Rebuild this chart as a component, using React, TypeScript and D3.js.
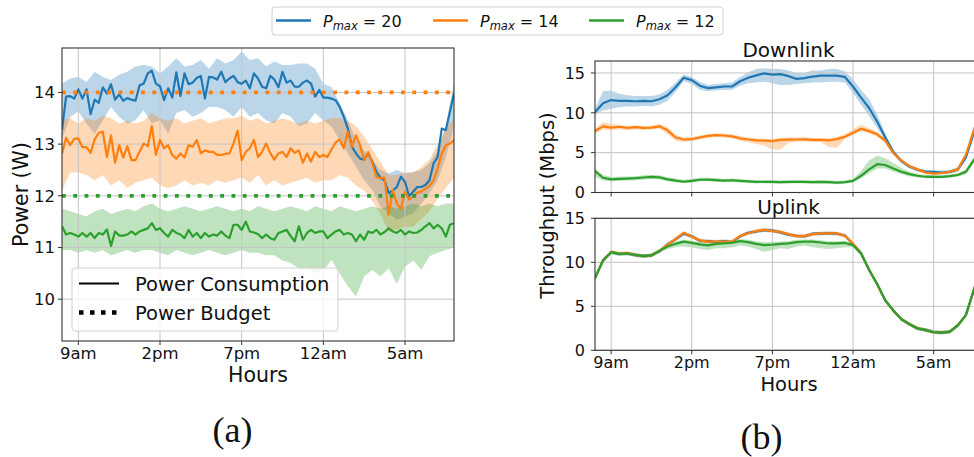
import React from "react";
import * as d3 from "d3";

// ---------------- data ----------------
const HOUR_TICKS = [1, 6, 11, 16, 21]; // hours after 8am
const HOUR_LABELS = ["9am", "2pm", "7pm", "12am", "5am"];
const PMAX_LABELS = ["20", "14", "12"];
const COLORS = ["#1f77b4", "#ff7f0e", "#2ca02c"];
const POWER_BUDGET = [20, 14, 12];
const POWER_TICKS = [10, 11, 12, 13, 14];
const TPUT_TICKS = [0, 5, 10, 15];

// (a) power consumption, 15-min samples from 8am to 8am
const POWER_P20 = [
  13.27, 13.92, 13.93, 13.88, 14.06, 13.88, 14.06, 13.58, 13.86, 13.8,
  14.1, 13.98, 14.16, 13.86, 13.96, 13.84, 13.89, 13.86, 13.84, 14.14,
  14.17, 14.37, 14.42, 14.17, 14.12, 13.85, 14.08, 13.9, 14.39, 13.93,
  14.37, 14.16, 14.19, 14.28, 14.32, 13.88, 14.3, 14.29, 14.25, 14.4,
  14.2, 14.27, 14.32, 14.2, 14.17, 14.23, 14.08, 14.37, 14.27, 14.11,
  14.08, 14.32, 14.25, 14.1, 14.4, 14.19, 14.23, 14.11, 14.11, 14.19,
  14.23, 14.17, 13.92, 14.05, 13.9, 13.9, 13.88, 13.85, 13.72, 13.53,
  13.3, 12.95, 12.82, 12.72, 12.7, 12.82, 12.66, 12.46, 12.35, 12.3,
  12.05, 12.1, 12.17, 12.37, 12.27, 11.99, 12.08, 12.17, 12.17, 12.21,
  12.3, 12.63, 12.75, 13.3, 13.27, 13.63, 13.98,
];
const POWER_P14 = [
  12.82, 13.12, 12.98, 13.1, 13.11, 12.94, 12.94, 12.83, 13.09, 13.22,
  13.24, 12.75, 13.17, 12.64, 12.98, 12.74, 12.96, 12.69, 12.69, 12.85,
  13.01, 12.96, 13.35, 12.79, 13.08, 12.92, 12.98, 12.79, 12.72, 12.82,
  12.74, 12.98, 12.95, 13.08, 12.82, 12.88, 12.85, 12.85, 12.79, 12.79,
  12.81, 12.82, 13.01, 13.26, 12.69, 12.85, 12.92, 13.08, 12.75, 12.85,
  13.01, 12.83, 12.7, 12.82, 12.85, 12.75, 12.92, 12.83, 12.88, 12.64,
  12.82, 12.66, 12.85, 12.75, 12.79, 12.75, 12.9, 13.03, 13.09, 12.92,
  13.24, 12.95, 13.17, 12.98, 12.69, 12.85, 12.63, 12.37, 12.34, 12.35,
  11.63, 12.11, 11.85, 11.75, 12.08, 11.93, 11.98, 12.06, 12.08, 12.14,
  12.19, 12.3, 12.53, 12.82, 12.98, 13.01, 13.08,
];
const POWER_P12 = [
  11.41, 11.25, 11.28, 11.25, 11.21, 11.28, 11.21, 11.28, 11.18, 11.28,
  11.25, 11.35, 11.03, 11.31, 11.23, 11.23, 11.25, 11.31, 11.25, 11.31,
  11.34, 11.37, 11.47, 11.34, 11.37, 11.28, 11.21, 11.34, 11.28, 11.25,
  11.18, 11.34, 11.21, 11.28, 11.18, 11.28, 11.21, 11.25, 11.23, 11.31,
  11.23, 11.18, 11.44, 11.44, 11.34, 11.5, 11.31, 11.29, 11.26, 11.18,
  11.25, 11.18, 11.15, 11.28, 11.31, 11.34, 11.22, 11.12, 11.41, 11.15,
  11.28, 11.34, 11.28, 11.31, 11.31, 11.18, 11.25, 11.31, 11.34, 11.25,
  11.28, 11.25, 11.12, 11.25, 11.15, 11.31, 11.28, 11.34, 11.25, 11.3,
  11.37, 11.31, 11.28, 11.34, 11.25, 11.31, 11.28, 11.29, 11.34, 11.41,
  11.47, 11.37, 11.44, 11.37, 11.21, 11.44, 11.47,
];
// (a) spread bands, 30-min samples
const POWER_P20_HI = [
  14.17, 14.27, 14.3, 14.2, 14.4, 14.3, 14.24, 14.34, 14.4, 14.5,
  14.53, 14.5, 14.37, 14.5, 14.66, 14.5, 14.53, 14.63, 14.46, 14.66,
  14.56, 14.63, 14.79, 14.63, 14.66, 14.5, 14.6, 14.53, 14.53, 14.56,
  14.56, 14.46, 14.17, 14.1, 13.79, 13.46, 13.08, 12.88, 12.69, 12.5,
  12.43, 12.5, 12.43, 12.46, 12.5, 12.63, 12.88, 13.33, 14.2,
];
const POWER_P20_LO = [
  13.1, 13.53, 13.63, 13.4, 13.2, 13.46, 13.72, 13.53, 13.4, 13.46,
  13.66, 13.4, 13.46, 13.2, 13.6, 13.66, 13.53, 13.6, 13.72, 13.72,
  13.66, 13.53, 13.72, 13.53, 13.6, 13.46, 13.4, 13.6, 13.53, 13.34,
  13.4, 13.6, 13.46, 13.34, 13.08, 12.82, 12.56, 12.3, 12.11, 11.79,
  11.66, 11.53, 11.6, 11.66, 11.85, 12.05, 12.3, 12.75, 13.33,
];
const POWER_P14_HI = [
  13.45, 13.5, 13.4, 13.5, 13.45, 13.55, 13.5, 13.4, 13.45, 13.4,
  13.45, 13.6, 13.5, 13.45, 13.5, 13.4, 13.45, 13.5, 13.4, 13.45,
  13.5, 13.5, 13.55, 13.45, 13.5, 13.4, 13.45, 13.5, 13.45, 13.4,
  13.45, 13.4, 13.45, 13.5, 13.5, 13.45, 13.35, 13.15, 12.9, 12.65,
  12.4, 12.4, 12.45, 12.45, 12.55, 12.7, 13.0, 13.3, 13.5,
];
const POWER_P14_LO = [
  12.1, 12.45, 12.45, 12.4, 12.3, 12.4, 12.2, 12.3, 12.15, 12.25,
  12.3, 12.35, 12.2, 12.15, 12.2, 12.3, 12.2, 12.25, 12.2, 12.3,
  12.25, 12.3, 12.35, 12.25, 12.4, 12.2, 12.3, 12.2, 12.25, 12.3,
  12.35, 12.25, 12.3, 12.3, 12.4, 12.35, 12.2, 12.1, 11.9, 11.65,
  11.3, 11.35, 11.4, 11.4, 11.55, 11.7, 11.95, 12.15, 12.35,
];
const POWER_P12_HI = [
  11.75, 11.7, 11.65, 11.6, 11.7, 11.75, 11.65, 11.7, 11.75, 11.7,
  11.8, 11.85, 11.75, 11.7, 11.75, 11.8, 11.75, 11.7, 11.75, 11.8,
  11.75, 11.7, 11.75, 11.7, 11.8, 11.75, 11.7, 11.75, 11.8, 11.75,
  11.7, 11.8, 11.75, 11.7, 11.8, 11.75, 11.7, 11.75, 11.8, 11.75,
  11.8, 11.75, 11.8, 11.85, 11.8, 11.85, 11.8, 11.85, 11.85,
];
const POWER_P12_LO = [
  10.95, 10.95, 10.9, 10.95, 10.9, 10.95, 10.85, 10.9, 10.95, 10.9,
  10.95, 10.95, 10.9, 10.85, 10.95, 10.9, 10.85, 10.9, 10.95, 10.9,
  10.85, 10.9, 10.95, 10.9, 10.9, 10.85, 10.85, 10.75, 10.7, 10.6,
  10.6, 10.5, 10.55, 10.76, 10.5, 10.25, 10.05, 10.44, 10.57, 10.44,
  10.6, 10.3, 10.63, 10.75, 10.57, 10.83, 10.9, 10.95, 11.0,
];

// (b) downlink throughput, 30-min samples
const DL_P20 = [
  10.08, 11.2, 11.6, 11.5, 11.5, 11.45, 11.5, 11.45, 11.7, 12.2,
  13.2, 14.4, 14.1, 13.4, 13.1, 13.2, 13.3, 13.3, 13.96, 14.4,
  14.7, 14.95, 14.8, 14.85, 14.6, 14.25, 14.35, 14.55, 14.67, 14.67,
  14.67, 14.5, 13.3, 11.9, 10.6, 8.9, 6.9, 5.1, 3.95, 3.25,
  2.85, 2.62, 2.58, 2.5, 2.58, 2.9, 4.4, 7.6, 10.5,
];
const DL_P20_HI = [
  10.5, 12.7, 12.8, 12.4, 12.2, 12.1, 12.1, 12.1, 12.3, 12.9,
  13.8, 14.8, 14.5, 13.9, 13.5, 13.6, 13.7, 13.8, 14.5, 15.1,
  15.5, 15.6, 15.5, 15.5, 15.3, 15.0, 15.0, 15.3, 15.3, 15.5,
  15.5, 15.2, 14.2, 12.9, 11.7, 9.8, 7.4, 5.4, 4.2, 3.5,
  3.05, 2.85, 2.8, 2.75, 2.8, 3.2, 4.8, 8.2, 11.0,
];
const DL_P20_LO = [
  9.8, 10.3, 10.5, 10.7, 10.8, 10.8, 10.9, 10.8, 11.0, 11.5,
  12.6, 14.0, 13.6, 12.9, 12.7, 12.8, 12.85, 12.9, 13.4, 13.7,
  13.8, 13.9, 13.7, 13.5, 13.5, 13.6, 13.7, 13.8, 13.8, 13.9,
  13.9, 13.8, 12.5, 11.0, 9.6, 8.1, 6.5, 4.8, 3.7, 3.0,
  2.6, 2.4, 2.35, 2.3, 2.35, 2.6, 4.0, 7.0, 10.0,
];
const DL_P14 = [
  7.7, 8.3, 8.15, 8.25, 8.1, 8.2, 8.1, 8.15, 8.3, 7.8,
  6.9, 6.65, 6.7, 6.9, 7.1, 7.2, 7.15, 7.05, 6.8, 6.65,
  6.55, 6.5, 6.45, 6.6, 6.63, 6.65, 6.67, 6.6, 6.6, 6.55,
  6.7, 7.0, 7.5, 8.0, 7.7, 7.3, 6.5, 4.95, 4.0, 3.3,
  2.9, 2.5, 2.38, 2.45, 2.6, 2.9, 4.7, 7.9, 10.5,
];
const DL_P14_HI = [
  8.0, 8.8, 8.6, 8.5, 8.35, 8.45, 8.35, 8.4, 8.6, 8.2,
  7.25, 6.9, 6.95, 7.15, 7.35, 7.45, 7.4, 7.3, 7.1, 6.9,
  6.8, 6.75, 6.7, 6.85, 6.9, 6.9, 6.95, 6.85, 6.85, 6.8,
  6.95, 7.3, 7.9, 8.5, 8.1, 7.6, 6.8, 5.2, 4.2, 3.5,
  3.1, 2.7, 2.58, 2.65, 2.8, 3.1, 4.95, 8.2, 10.8,
];
const DL_P14_LO = [
  7.4, 7.9, 7.8, 7.95, 7.85, 7.95, 7.85, 7.9, 8.0, 7.3,
  6.5, 6.35, 6.45, 6.65, 6.85, 6.95, 6.9, 6.8, 6.5, 6.3,
  6.1, 5.9, 5.4, 5.4, 6.2, 6.4, 6.4, 6.35, 6.3, 5.7,
  5.6, 6.7, 7.2, 7.7, 7.4, 7.0, 6.2, 4.7, 3.8, 3.1,
  2.7, 2.3, 2.18, 2.25, 2.4, 2.7, 4.45, 7.6, 10.2,
];
const DL_P12 = [
  2.7, 1.85, 1.65, 1.72, 1.75, 1.8, 1.88, 1.96, 1.9, 1.65,
  1.5, 1.35, 1.45, 1.6, 1.62, 1.55, 1.48, 1.54, 1.46, 1.4,
  1.33, 1.35, 1.33, 1.3, 1.33, 1.35, 1.33, 1.3, 1.33, 1.3,
  1.25, 1.3, 1.45, 2.1, 2.9, 3.55, 3.45, 3.0, 2.6, 2.3,
  2.1, 1.98, 1.96, 1.97, 2.05, 2.2, 2.6, 4.1, 5.0,
];
const DL_P12_HI = [
  3.0, 2.2, 1.95, 2.0, 2.0, 2.05, 2.15, 2.2, 2.15, 1.9,
  1.75, 1.6, 1.7, 1.85, 1.85, 1.8, 1.7, 1.75, 1.7, 1.6,
  1.55, 1.55, 1.55, 1.5, 1.55, 1.55, 1.55, 1.5, 1.55, 1.5,
  1.45, 1.5, 1.7, 2.7, 4.0, 4.6, 4.3, 3.7, 3.1, 2.6,
  2.35, 2.2, 2.15, 2.15, 2.25, 2.45, 2.9, 4.5, 5.4,
];
const DL_P12_LO = [
  2.0, 1.5, 1.4, 1.45, 1.5, 1.55, 1.6, 1.7, 1.65, 1.4,
  1.3, 1.15, 1.25, 1.4, 1.4, 1.35, 1.28, 1.32, 1.25, 1.2,
  1.12, 1.15, 1.12, 1.1, 1.12, 1.15, 1.12, 1.1, 1.12, 1.1,
  1.05, 1.1, 1.25, 1.8, 2.4, 3.0, 3.0, 2.6, 2.3, 2.05,
  1.88, 1.78, 1.76, 1.77, 1.85, 2.0, 2.3, 3.7, 4.6,
];

// (b) uplink throughput, 30-min samples
const UL_P20 = [
  8.2, 10.25, 11.15, 10.95, 11.0, 10.8, 10.72, 10.78, 11.25, 12.05,
  12.6, 13.25, 12.95, 12.45, 12.4, 12.3, 12.4, 12.3, 12.95, 13.35,
  13.5, 13.65, 13.6, 13.4, 13.15, 13.0, 12.95, 13.25, 13.25, 13.3,
  13.25, 13.05, 12.05, 11.05, 9.1, 7.55, 5.65, 4.55, 3.5, 3.0,
  2.45, 2.32, 2.08, 2.0, 2.12, 2.8, 4.0, 6.9, 9.6,
];
const UL_P20_HI = [
  8.4, 10.45, 11.35, 11.15, 11.2, 11.0, 10.92, 10.98, 11.45, 12.25,
  12.8, 13.45, 13.15, 12.65, 12.6, 12.5, 12.6, 12.5, 13.15, 13.55,
  13.7, 13.85, 13.8, 13.6, 13.35, 13.2, 13.15, 13.45, 13.45, 13.5,
  13.45, 13.25, 12.25, 11.25, 9.3, 7.75, 5.85, 4.75, 3.7, 3.2,
  2.65, 2.52, 2.28, 2.2, 2.32, 3.0, 4.2, 7.1, 9.8,
];
const UL_P20_LO = [
  8.0, 10.05, 10.95, 10.75, 10.8, 10.6, 10.52, 10.58, 11.05, 11.85,
  12.4, 13.05, 12.75, 12.25, 12.2, 12.1, 12.2, 12.1, 12.75, 13.15,
  13.3, 13.45, 13.4, 13.2, 12.95, 12.8, 12.75, 13.05, 13.05, 13.1,
  13.05, 12.85, 11.85, 10.85, 8.9, 7.35, 5.45, 4.35, 3.3, 2.8,
  2.25, 2.12, 1.88, 1.8, 1.92, 2.6, 3.8, 6.7, 9.4,
];
const UL_P14 = [
  8.22, 10.2, 11.2, 11.0, 11.05, 10.85, 10.7, 10.8, 11.3, 12.0,
  12.65, 13.35, 12.9, 12.5, 12.35, 12.35, 12.35, 12.35, 13.0, 13.3,
  13.55, 13.7, 13.55, 13.45, 13.2, 12.98, 12.98, 13.2, 13.29, 13.29,
  13.29, 13.0, 12.1, 11.0, 9.15, 7.5, 5.7, 4.5, 3.55, 2.95,
  2.5, 2.3, 2.05, 2.02, 2.1, 2.85, 4.0, 6.9, 9.5,
];
const UL_P14_HI = [
  8.42, 10.4, 11.4, 11.2, 11.25, 11.05, 10.9, 11.0, 11.5, 12.2,
  12.85, 13.55, 13.1, 12.7, 12.55, 12.55, 12.55, 12.55, 13.2, 13.5,
  13.75, 13.9, 13.75, 13.65, 13.4, 13.18, 13.18, 13.4, 13.49, 13.49,
  13.49, 13.2, 12.3, 11.2, 9.35, 7.7, 5.9, 4.7, 3.75, 3.15,
  2.7, 2.5, 2.25, 2.22, 2.3, 3.05, 4.2, 7.1, 9.7,
];
const UL_P14_LO = [
  8.02, 10.0, 11.0, 10.8, 10.85, 10.65, 10.5, 10.6, 11.1, 11.8,
  12.45, 13.15, 12.7, 12.3, 12.15, 12.15, 12.15, 12.15, 12.8, 13.1,
  13.35, 13.5, 13.35, 13.25, 13.0, 12.78, 12.78, 13.0, 13.09, 13.09,
  13.09, 12.8, 11.9, 10.8, 8.95, 7.3, 5.5, 4.3, 3.35, 2.75,
  2.3, 2.1, 1.85, 1.82, 1.9, 2.65, 3.8, 6.7, 9.3,
];
const UL_P12 = [
  8.22, 10.2, 11.15, 10.95, 11.0, 10.85, 10.7, 10.8, 11.3, 11.8,
  12.1, 12.35, 12.2, 12.03, 11.92, 12.1, 12.14, 12.22, 12.41, 12.3,
  12.1, 11.95, 12.0, 12.1, 12.15, 12.3, 12.35, 12.35, 12.25, 12.14,
  12.14, 12.2, 11.95, 11.0, 9.15, 7.5, 5.7, 4.5, 3.55, 2.95,
  2.5, 2.3, 2.05, 2.02, 2.1, 2.85, 4.0, 6.9, 9.5,
];
const UL_P12_HI = [
  8.4, 10.4, 11.35, 11.15, 11.2, 11.05, 10.9, 11.0, 11.5, 12.0,
  12.35, 12.6, 12.45, 12.3, 12.2, 12.35, 12.4, 12.45, 12.65, 12.55,
  12.4, 12.3, 12.3, 12.35, 12.4, 12.55, 12.6, 12.6, 12.5, 12.4,
  12.4, 12.45, 12.15, 11.2, 9.35, 7.7, 5.9, 4.7, 3.75, 3.15,
  2.7, 2.5, 2.25, 2.22, 2.3, 3.05, 4.2, 7.1, 9.7,
];
const UL_P12_LO = [
  8.0, 10.0, 10.95, 10.75, 10.8, 10.65, 10.5, 10.6, 11.1, 11.5,
  11.7, 11.8, 11.7, 11.5, 11.4, 11.6, 11.6, 11.7, 11.9, 11.8,
  11.5, 11.2, 11.4, 11.6, 11.5, 11.8, 11.9, 11.7, 11.6, 11.5,
  11.6, 11.7, 11.7, 10.8, 8.95, 7.3, 5.5, 4.3, 3.35, 2.75,
  2.3, 2.1, 1.85, 1.82, 1.9, 2.65, 3.8, 6.7, 9.3,
];

// ---------------- helpers ----------------
type Scale = d3.ScaleLinear<number, number>;
const FONT = "DejaVu Sans, sans-serif";

function Band(p: { lo: number[]; hi: number[]; step: number; x: Scale; y: Scale; color: string; clip: string }) {
  const area = d3
    .area<number>()
    .x((_, i) => p.x(i * p.step))
    .y0((_, i) => p.y(p.lo[i]))
    .y1((d) => p.y(d));
  return <path d={area(p.hi) || ""} fill={p.color} fillOpacity={0.3} stroke="none" clipPath={`url(#${p.clip})`} />;
}

function Line(p: { values: number[]; step: number; x: Scale; y: Scale; color: string; clip: string; width?: number }) {
  const line = d3
    .line<number>()
    .x((_, i) => p.x(i * p.step))
    .y((d) => p.y(d));
  return (
    <path
      d={line(p.values) || ""}
      fill="none"
      stroke={p.color}
      strokeWidth={p.width ?? 2.2}
      strokeLinejoin="round"
      clipPath={`url(#${p.clip})`}
    />
  );
}

function Grid(p: { x: Scale; y: Scale; xTicks: number[]; yTicks: number[] }) {
  const [x0, x1] = p.x.range();
  const [y1, y0] = p.y.range();
  return (
    <g stroke="#c4c4c4" strokeWidth={1}>
      {p.xTicks.map((t) => (
        <line key={"gx" + t} x1={p.x(t)} x2={p.x(t)} y1={y0} y2={y1} />
      ))}
      {p.yTicks.map((t) => (
        <line key={"gy" + t} x1={x0} x2={x1} y1={p.y(t)} y2={p.y(t)} />
      ))}
    </g>
  );
}

function Frame(p: {
  x: Scale;
  y: Scale;
  xTicks: number[];
  yTicks: number[];
  xLabels?: string[];
  xLabelY?: number;
  yLabelX: number;
  tickFont: number;
}) {
  const [x0, x1] = p.x.range();
  const [y1, y0] = p.y.range();
  return (
    <g>
      <rect x={x0} y={y0} width={x1 - x0} height={y1 - y0} fill="none" stroke="#333" strokeWidth={1.1} />
      {p.xTicks.map((t) => (
        <line key={"tx" + t} x1={p.x(t)} x2={p.x(t)} y1={y1} y2={y1 + 4} stroke="#333" strokeWidth={1} />
      ))}
      {p.yTicks.map((t) => (
        <line key={"ty" + t} x1={x0 - 4} x2={x0} y1={p.y(t)} y2={p.y(t)} stroke="#333" strokeWidth={1} />
      ))}
      {p.xLabels &&
        p.xTicks.map((t, i) => (
          <text key={"lx" + t} x={p.x(t)} y={p.xLabelY} textAnchor="middle" fontSize={p.tickFont} fill="#111">
            {p.xLabels![i]}
          </text>
        ))}
      {p.yTicks.map((t) => (
        <text key={"ly" + t} x={p.yLabelX} y={p.y(t)} dy="0.36em" textAnchor="end" fontSize={p.tickFont} fill="#111">
          {t}
        </text>
      ))}
    </g>
  );
}

// ---------------- chart ----------------
export default function App() {
  // panel (a)
  const xL = d3.scaleLinear().domain([0, 24]).range([62, 454]);
  const yL = d3.scaleLinear().domain([9.19, 14.86]).range([341, 48]);
  // panel (b)
  const xR = d3.scaleLinear().domain([0, 24]).range([595, 982]);
  const yDL = d3.scaleLinear().domain([0, 16.5]).range([192.5, 61]);
  const yUL = d3.scaleLinear().domain([0, 15]).range([350.3, 218.3]);

  const powerMeans = [POWER_P20, POWER_P14, POWER_P12];
  const powerHi = [POWER_P20_HI, POWER_P14_HI, POWER_P12_HI];
  const powerLo = [POWER_P20_LO, POWER_P14_LO, POWER_P12_LO];
  const dlMeans = [DL_P20, DL_P14, DL_P12];
  const dlHi = [DL_P20_HI, DL_P14_HI, DL_P12_HI];
  const dlLo = [DL_P20_LO, DL_P14_LO, DL_P12_LO];
  const ulMeans = [UL_P20, UL_P14, UL_P12];
  const ulHi = [UL_P20_HI, UL_P14_HI, UL_P12_HI];
  const ulLo = [UL_P20_LO, UL_P14_LO, UL_P12_LO];

  const legendX = [276, 433, 589];

  return (
    <svg
      width={974}
      height={457}
      viewBox="0 0 974 457"
      style={{ position: "absolute", left: 0, top: 0, background: "#fff", fontFamily: FONT }}
    >
      <defs>
        <clipPath id="clipL">
          <rect x={62} y={48} width={392} height={293} />
        </clipPath>
        <clipPath id="clipDL">
          <rect x={595} y={61} width={387} height={131.5} />
        </clipPath>
        <clipPath id="clipUL">
          <rect x={595} y={218.3} width={387} height={132} />
        </clipPath>
      </defs>
      <rect x={0} y={0} width={974} height={457} fill="#fff" />

      {/* ---------- panel (a) ---------- */}
      {powerMeans.map((_, s) => (
        <Band key={"bL" + s} lo={powerLo[s]} hi={powerHi[s]} step={0.5} x={xL} y={yL} color={COLORS[s]} clip="clipL" />
      ))}
      <Grid x={xL} y={yL} xTicks={HOUR_TICKS} yTicks={POWER_TICKS} />
      {powerMeans.map((v, s) => (
        <Line key={"lL" + s} values={v} step={0.25} x={xL} y={yL} color={COLORS[s]} clip="clipL" />
      ))}
      {POWER_BUDGET.map((b, s) => (
        <line
          key={"bud" + s}
          x1={xL(0)}
          x2={xL(24)}
          y1={yL(b)}
          y2={yL(b)}
          stroke={COLORS[s]}
          strokeWidth={3.8}
          strokeDasharray="3.8 7.5"
          clipPath="url(#clipL)"
        />
      ))}
      <Frame x={xL} y={yL} xTicks={HOUR_TICKS} yTicks={POWER_TICKS} xLabels={HOUR_LABELS} xLabelY={359} yLabelX={55} tickFont={16.5} />
      <text x={258} y={381.5} textAnchor="middle" fontSize={20.5} fill="#111">
        Hours
      </text>
      <text transform="translate(28,194.5) rotate(-90)" textAnchor="middle" fontSize={20.5} fill="#111">
        Power (W)
      </text>
      {/* inner legend */}
      <rect x={72} y={268} width={266} height={63} rx={3} fill="#fff" fillOpacity={0.8} stroke="#d0d0d0" />
      <line x1={79} x2={119} y1={283.5} y2={283.5} stroke="#000" strokeWidth={2.2} />
      <text x={135} y={290.5} fontSize={19.5} fill="#111">
        Power Consumption
      </text>
      <line x1={79} x2={119} y1={312.5} y2={312.5} stroke="#000" strokeWidth={4.5} strokeDasharray="4.5 6.5" />
      <text x={135} y={319.5} fontSize={19.5} fill="#111">
        Power Budget
      </text>

      {/* ---------- panel (b) downlink ---------- */}
      {dlMeans.map((_, s) => (
        <Band key={"bD" + s} lo={dlLo[s]} hi={dlHi[s]} step={0.5} x={xR} y={yDL} color={COLORS[s]} clip="clipDL" />
      ))}
      <Grid x={xR} y={yDL} xTicks={HOUR_TICKS} yTicks={TPUT_TICKS} />
      {dlMeans.map((v, s) => (
        <Line key={"lD" + s} values={v} step={0.5} x={xR} y={yDL} color={COLORS[s]} clip="clipDL" />
      ))}
      <Frame x={xR} y={yDL} xTicks={HOUR_TICKS} yTicks={TPUT_TICKS} yLabelX={585} tickFont={16} />
      <text x={788.5} y={56.5} textAnchor="middle" fontSize={20} fill="#111">
        Downlink
      </text>

      {/* ---------- panel (b) uplink ---------- */}
      {ulMeans.map((_, s) => (
        <Band key={"bU" + s} lo={ulLo[s]} hi={ulHi[s]} step={0.5} x={xR} y={yUL} color={COLORS[s]} clip="clipUL" />
      ))}
      <Grid x={xR} y={yUL} xTicks={HOUR_TICKS} yTicks={TPUT_TICKS} />
      {ulMeans.map((v, s) => (
        <Line key={"lU" + s} values={v} step={0.5} x={xR} y={yUL} color={COLORS[s]} clip="clipUL" />
      ))}
      <Frame x={xR} y={yUL} xTicks={HOUR_TICKS} yTicks={TPUT_TICKS} xLabels={HOUR_LABELS} xLabelY={368} yLabelX={585} tickFont={16} />
      <text x={788.5} y={214} textAnchor="middle" fontSize={20} fill="#111">
        Uplink
      </text>
      <text x={789} y={390.5} textAnchor="middle" fontSize={19.5} fill="#111">
        Hours
      </text>
      <text transform="translate(554,205.5) rotate(-90)" textAnchor="middle" fontSize={19.5} fill="#111">
        Throughput (Mbps)
      </text>

      {/* ---------- top legend ---------- */}
      <rect x={272} y={7} width={451} height={28} rx={3} fill="#fff" stroke="#d0d0d0" />
      {PMAX_LABELS.map((lab, s) => (
        <g key={"leg" + s}>
          <line x1={legendX[s]} x2={legendX[s] + 35} y1={20.5} y2={20.5} stroke={COLORS[s]} strokeWidth={2.7} />
          <text x={legendX[s] + 47} y={26.5} fontSize={16} fill="#111" style={{ whiteSpace: "pre" }}>
            <tspan fontStyle="italic">P</tspan>
            <tspan fontStyle="italic" fontSize={11.5} dy={3.5}>
              max
            </tspan>
            <tspan dy={-3.5}>{" = " + lab}</tspan>
          </text>
        </g>
      ))}

      {/* ---------- captions ---------- */}
      <text x={232.5} y={442} textAnchor="middle" fontSize={36} fontFamily="Liberation Serif, serif" fill="#111">
        (a)
      </text>
      <text x={761.5} y={449} textAnchor="middle" fontSize={36} fontFamily="Liberation Serif, serif" fill="#111">
        (b)
      </text>
    </svg>
  );
}
